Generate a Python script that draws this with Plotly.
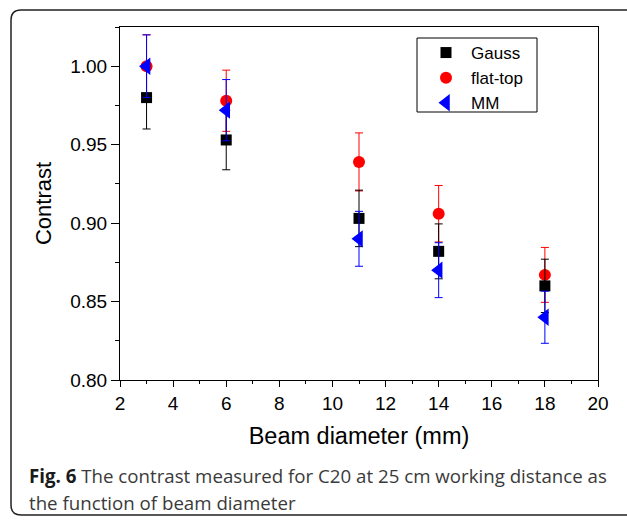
import plotly.graph_objects as go

# ---- data ----
beam_diameter = [3, 6, 11, 14, 18]
gauss = [0.980, 0.953, 0.903, 0.882, 0.860]
gauss_err = [0.020, 0.019, 0.018, 0.0175, 0.017]
flat_top = [1.000, 0.978, 0.939, 0.906, 0.867]
flat_top_err = [0.020, 0.0195, 0.0185, 0.018, 0.0175]
mm = [1.000, 0.972, 0.890, 0.870, 0.840]
mm_err = [0.020, 0.0195, 0.0175, 0.0175, 0.0166]

W, H = 627, 521
ML, MR, MT, MB = 120, 29, 27, 141
PW, PH = W - ML - MR, H - MT - MB


def px(x):
    return (x - ML) / PW


def py(y):
    return (H - MB - y) / PH


fig = go.Figure()


def add(name, y, err, color, symbol, size, rank):
    fig.add_trace(go.Scatter(
        x=beam_diameter, y=y, name=name, mode="markers",
        legendrank=rank,
        marker=dict(color=color, symbol=symbol, size=size, line=dict(width=0)),
        error_y=dict(type="data", array=err, visible=True, color=color,
                     thickness=1, width=4),
    ))


add("flat-top", flat_top, flat_top_err, "#ff0000", "circle", 12, 2)
add("Gauss", gauss, gauss_err, "#000000", "square", 11, 1)
add("MM", mm, mm_err, "#0000ff", "triangle-left", 15, 3)

FAM = "Liberation Sans, Arial, sans-serif"
axis_font = dict(family=FAM, size=19, color="#000")

fig.update_xaxes(
    range=[2, 20], tickmode="array", tickvals=[2, 4, 6, 8, 10, 12, 14, 16, 18, 20],
    ticks="outside", ticklen=6, tickwidth=1, tickcolor="#000",
    minor=dict(dtick=1, ticks="outside", ticklen=3, tickcolor="#000"),
    showline=True, linecolor="#000", linewidth=1, mirror=True,
    showgrid=False, zeroline=False, tickfont=axis_font,
    title=dict(text="Beam diameter (mm)", font=dict(family=FAM, size=23.5, color="#000"), standoff=14),
)
fig.update_yaxes(
    range=[0.80, 1.025], tickmode="array", tickvals=[0.80, 0.85, 0.90, 0.95, 1.00],
    ticktext=["0.80", "0.85", "0.90", "0.95", "1.00"],
    ticks="outside", ticklen=8, tickwidth=1, tickcolor="#000",
    minor=dict(dtick=0.025, tick0=0.8, ticks="outside", ticklen=4, tickcolor="#000"),
    showline=True, linecolor="#000", linewidth=1, mirror=True,
    showgrid=False, zeroline=False, tickfont=axis_font,
    title=dict(text="Contrast", font=dict(family=FAM, size=22, color="#000"), standoff=12),
)

# rounded frame around the figure
x0, x1, y0, y1, r = px(11), px(660), py(10), py(515), 10
rx, ry = r / PW, r / PH
path = (f"M {x0},{y1 + ry} L {x0},{y0 - ry} Q {x0},{y0} {x0 + rx},{y0} "
        f"L {x1},{y0} L {x1},{y1} L {x0 + rx},{y1} Q {x0},{y1} {x0},{y1 + ry} Z")
fig.add_shape(type="path", path=path, xref="paper", yref="paper",
              line=dict(color="#222", width=1.5), layer="below")

# legend box
fig.add_shape(type="rect", xref="paper", yref="paper",
              x0=px(417), x1=px(537), y0=py(38), y1=py(112),
              line=dict(color="#000", width=1), fillcolor="white", layer="below")

cap_font = dict(family="Open Sans, Noto Sans, sans-serif", size=18.7, color="#3a3a3a")
fig.add_annotation(
    x=px(27), y=py(475), xref="paper", yref="paper", xanchor="left", yanchor="middle",
    showarrow=False, align="left", font=cap_font,
    text="<b><span style='color:#1a1a1a'>Fig. 6</span></b> The contrast measured for C20 at 25 cm working distance as",
)
fig.add_annotation(
    x=px(27), y=py(502), xref="paper", yref="paper", xanchor="left", yanchor="middle",
    showarrow=False, align="left", font=cap_font,
    text="the function of beam diameter",
)

fig.update_layout(
    width=W, height=H,
    margin=dict(l=ML, r=MR, t=MT, b=MB),
    paper_bgcolor="white", plot_bgcolor="white",
    showlegend=True,
    legend=dict(
        x=px(421), y=py(35), xanchor="left", yanchor="top",
        borderwidth=0, bgcolor="rgba(0,0,0,0)",
        font=dict(family=FAM, size=17, color="#000"),
        itemwidth=40, traceorder="normal",
    ),
)

fig.write_html("out.html", config={"displayModeBar": False},
               post_script="document.body.style.margin='0';")
